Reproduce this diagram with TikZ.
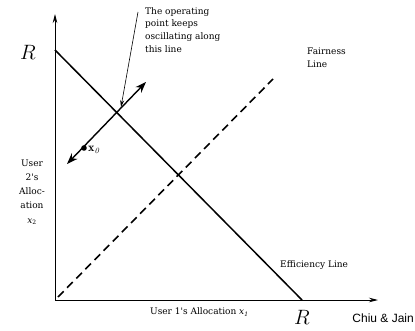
\documentclass[tikz,border=0pt]{standalone}
\usepackage{fontspec}
\newfontfamily\chiufont{Liberation Sans}
\newfontfamily\schfont{DejaVu Serif}
\usetikzlibrary{arrows.meta}

\begin{document}
\begin{tikzpicture}[
  x=1pt, y=1pt,
  axis/.style={line width=0.9pt, -{Stealth[length=9pt,width=4.5pt]}},
  effline/.style={line width=1.5pt},
  fairline/.style={line width=1.6pt, dash pattern=on 8pt off 5pt},
  oscline/.style={line width=1.4pt, {Stealth[length=11pt,width=8pt]}-{Stealth[length=11pt,width=8pt]}},
  pointer/.style={line width=0.6pt, -{Stealth[length=7pt,width=4pt]}},
  note/.style={font=\schfont\fontsize{9}{12.8}\selectfont, align=left, inner sep=0pt},
  bigR/.style={font=\fontsize{22}{22}\selectfont, inner sep=0pt}
]
\useasboundingbox (0,0) rectangle (415,330);

\coordinate (O) at (55,30);
\coordinate (ytop) at (55,316);
\coordinate (xend) at (378,30);
\coordinate (Ry) at (55,280);
\coordinate (Rx) at (302,30);
\coordinate (fstart) at (58,33);
\coordinate (fend) at (273,251);
\coordinate (osclow) at (67,166);
\coordinate (oschigh) at (146,248);
\coordinate (meet) at (121,223);
\coordinate (notetail) at (138,318);

\draw[axis] (O) -- (ytop);
\draw[axis] (O) -- (xend);
\draw[effline] (Ry) -- (Rx);
\draw[fairline] (fstart) -- (fend);
\draw[oscline] (osclow) -- (oschigh);
\draw[pointer] (notetail) -- (meet);

\fill (84,182) circle (2.8pt) coordinate (x0);
\node[anchor=west, inner sep=0pt, font=\fontsize{12}{12}\selectfont] (x0lbl) at ([xshift=4pt,yshift=-2pt]x0) {$\mathbf{x}_{\mathit{0}}$};

\node[bigR] (Rylbl) at (28,278) {$R$};
\node[bigR] (Rxlbl) at (302,13) {$R$};

\node[note, anchor=north west] (opnote) at (145,323) {The operating\\point keeps\\oscillating along\\this line};
\node[note, anchor=north west] (fairlbl) at (307,282) {Fairness\\Line};
\node[note, align=center, font=\schfont\fontsize{9}{14.3}\selectfont] (ylbl) at (32,138) {User\\2's\\Alloc-\\ation\\{\itshape x}\textsubscript{2}};
\node[note, anchor=west] (xlbl) at (150,18) {User 1's Allocation {\itshape x}\textsubscript{\itshape 1}};
\node[note, anchor=west] (efflbl) at (280,65) {Efficiency Line};
\node[anchor=east, inner sep=0pt, font=\chiufont\fontsize{12}{12}\selectfont] (credit) at (414,12) {Chiu \& Jain};
\end{tikzpicture}
\end{document}
